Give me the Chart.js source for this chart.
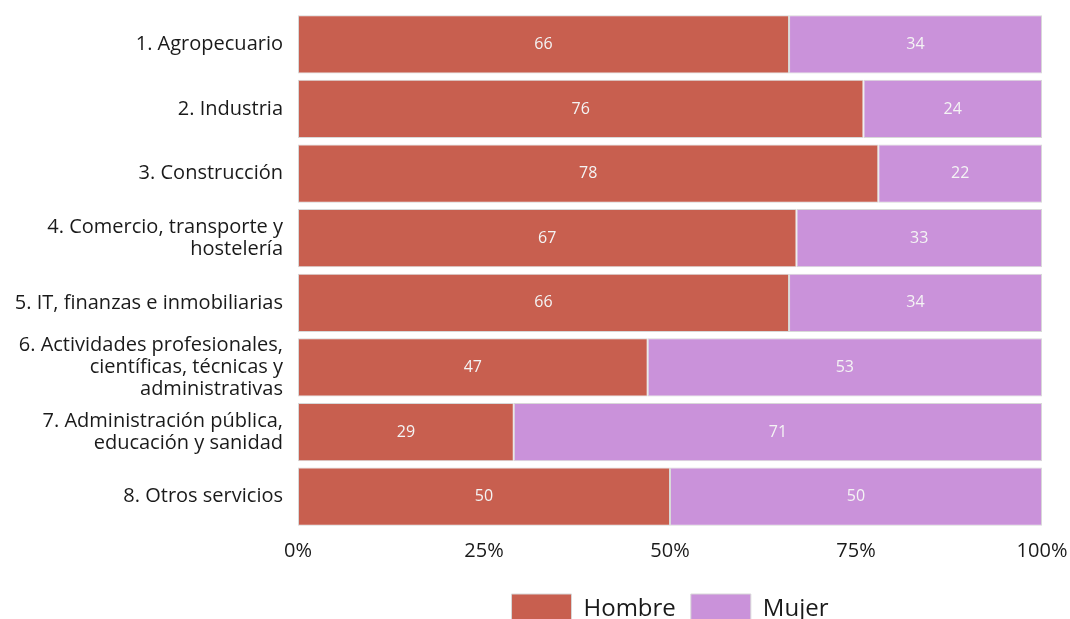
<!DOCTYPE html>
<html>
<head>
<meta charset="utf-8">
<script src="https://cdn.jsdelivr.net/npm/chart.js@4"></script>
<style>
  html, body { margin: 0; padding: 0; background: #fff; overflow: hidden; }
  #wrap { width: 1070px; height: 634px; position: relative; }
</style>
</head>
<body>
<div id="wrap"><canvas id="chart"></canvas></div>
<script>
const categories = [
  '1. Agropecuario',
  '2. Industria',
  '3. Construcción',
  ['4. Comercio, transporte y', 'hostelería'],
  '5. IT, finanzas e inmobiliarias',
  ['6. Actividades profesionales,', 'científicas, técnicas y', 'administrativas'],
  ['7. Administración pública,', 'educación y sanidad'],
  '8. Otros servicios'
];
const hombre = [66, 76, 78, 67, 66, 47, 29, 50];
const mujer = [34, 24, 22, 33, 34, 53, 71, 50];
const xTicks = [0, 25, 50, 75, 100];

const FONT = "'Open Sans', sans-serif";

// value labels in the middle of each segment
const barLabels = {
  id: 'barLabels',
  afterDatasetsDraw(chart) {
    const ctx = chart.ctx;
    ctx.save();
    ctx.font = '16px ' + FONT;
    ctx.fillStyle = '#f4f4f4';
    ctx.textAlign = 'center';
    ctx.textBaseline = 'middle';
    chart.data.datasets.forEach((ds, i) => {
      chart.getDatasetMeta(i).data.forEach((bar, j) => {
        const cx = (bar.x + bar.base) / 2;
        ctx.fillText(String(ds.data[j]), cx, bar.y);
      });
    });
    ctx.restore();
  }
};

new Chart(document.getElementById('chart'), {
  type: 'bar',
  data: {
    labels: categories,
    datasets: [
      {
        label: 'Hombre',
        data: hombre,
        backgroundColor: '#c85f4f',
        borderColor: '#d8d8d8',
        borderWidth: 1,
        borderSkipped: false,
        barPercentage: 0.9,
        categoryPercentage: 1
      },
      {
        label: 'Mujer',
        data: mujer,
        backgroundColor: '#ca92da',
        borderColor: '#d8d8d8',
        borderWidth: 1,
        borderSkipped: false,
        barPercentage: 0.9,
        categoryPercentage: 1
      }
    ]
  },
  options: {
    indexAxis: 'y',
    responsive: true,
    maintainAspectRatio: false,
    animation: false,
    layout: { padding: { top: 12, right: 28, left: 0, bottom: 0 } },
    plugins: {
      tooltip: { enabled: false },
      legend: {
        position: 'bottom',
        fullSize: false,
        labels: {
          boxWidth: 60,
          boxHeight: 30,
          padding: 15,
          color: '#1a1a1a',
          font: { family: FONT, size: 24 }
        }
      }
    },
    scales: {
      x: {
        stacked: true,
        min: 0,
        max: 100,
        afterBuildTicks: (axis) => { axis.ticks = xTicks.map(v => ({ value: v })); },
        grid: { display: false, drawTicks: false },
        border: { display: false },
        ticks: {
          color: '#1a1a1a',
          padding: 10,
          maxRotation: 0,
          font: { family: FONT, size: 20 },
          callback: (v) => v + '%'
        },
        afterFit: (axis) => {
          axis.height = 50;
          axis.paddingLeft = 0;
          axis.paddingRight = 0;
        }
      },
      y: {
        stacked: true,
        grid: { display: false, drawTicks: false },
        border: { display: false },
        ticks: {
          color: '#1a1a1a',
          padding: 15,
          autoSkip: false,
          font: { family: FONT, size: 20, lineHeight: 1.1 }
        },
        afterFit: (axis) => {
          axis.width = 298;
          axis.paddingTop = 0;
          axis.paddingBottom = 0;
        }
      }
    }
  },
  plugins: [barLabels]
});
</script>
</body>
</html>
